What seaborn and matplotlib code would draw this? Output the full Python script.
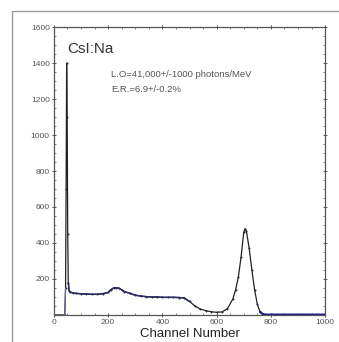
import matplotlib
matplotlib.use("Agg")
import matplotlib.pyplot as plt
from matplotlib.ticker import AutoMinorLocator
from matplotlib.patches import Rectangle
import seaborn as sns
import pandas as pd

# spectrum (channel -> counts)
channels = [0, 20, 40, 43, 45, 47, 49, 51, 53, 56, 60, 70, 80, 100, 120, 140, 160, 180,
            200, 210, 220, 230, 240, 250, 260, 280, 300, 320, 340, 360, 380, 400, 420,
            440, 460, 480, 500, 520, 540, 560, 580, 600, 620, 640, 660, 670, 680, 690,
            700, 705, 710, 720, 730, 740, 750, 760, 770, 780, 800, 850, 900, 950, 1000]
counts = [0, 0, 0, 150, 700, 1400, 1100, 450, 180, 135, 128, 122, 120, 118, 116, 115, 115, 118,
          125, 140, 150, 152, 148, 140, 130, 120, 110, 105, 102, 100, 100, 98, 98,
          98, 97, 95, 75, 50, 33, 24, 18, 15, 17, 35, 90, 140, 210, 320,
          460, 480, 465, 370, 250, 140, 60, 18, 5, 2, 2, 2, 2, 2, 2]

x_ticks = [0, 200, 400, 600, 800, 1000]
y_ticks = [200, 400, 600, 800, 1000, 1200, 1400, 1600]
title_text = "CsI:Na"
info_lines = ["L.O=41,000+/-1000 photons/MeV", "E.R.=6.9+/-0.2%"]

sns.set_theme(style="ticks")
plt.rcParams["font.family"] = ["Liberation Sans", "DejaVu Sans"]

df = pd.DataFrame({"channel": channels, "counts": counts})

fig = plt.figure(figsize=(3.39, 3.42), dpi=100)
ax = fig.add_axes([0.159, 0.079, 0.8, 0.842])

sns.lineplot(data=df, x="channel", y="counts", color="#222222", lw=0.9,
             marker="o", markersize=1.4, markeredgewidth=0, ax=ax)
# low-count stretches drawn in navy, as in the scan
low = df[(df.channel >= 53) & (df.channel <= 500)]
sns.lineplot(data=low, x="channel", y="counts", color="#2a2a66", lw=1.1, ax=ax)
tail = df[df.channel >= 760]
sns.lineplot(data=tail, x="channel", y="counts", color="#1c1c88", lw=1.6, ax=ax)
head = df[(df.channel >= 40) & (df.channel <= 43)]
sns.lineplot(data=head, x="channel", y="counts", color="#6a6aaa", lw=0.8, ax=ax)

ax.set_xlim(0, 1000)
ax.set_ylim(0, 1600)
ax.set_xticks(x_ticks)
ax.set_yticks(y_ticks)
ax.xaxis.set_minor_locator(AutoMinorLocator(4))
ax.yaxis.set_minor_locator(AutoMinorLocator(4))
ax.tick_params(which="both", direction="inout", top=True, right=True,
               labelsize=6, labelcolor="#555555", color="#555555", pad=1.5)
ax.tick_params(which="major", length=3, width=0.7)
ax.tick_params(which="minor", length=1.5, width=0.5, direction="in")
for s in ax.spines.values():
    s.set_color("#555555")
    s.set_linewidth(0.9)

ax.set_xlabel("Channel Number", fontsize=9.5, color="#222222", labelpad=1)
ax.set_ylabel("")

ax.text(0.05, 0.925, title_text, transform=ax.transAxes, fontsize=11,
        color="#333333", va="center")
ax.text(0.21, 0.835, info_lines[0], transform=ax.transAxes, fontsize=6.8,
        color="#555555", va="center")
ax.text(0.21, 0.783, info_lines[1], transform=ax.transAxes, fontsize=6.8,
        color="#555555", va="center")

# outer frame of the scanned figure
fig.add_artist(Rectangle((12 / 339, -0.05), 1.0, 1 - 11 / 342 + 0.05,
                         transform=fig.transFigure, fill=False,
                         edgecolor="#999999", lw=1.0))

fig.savefig("out.png", dpi=100)
